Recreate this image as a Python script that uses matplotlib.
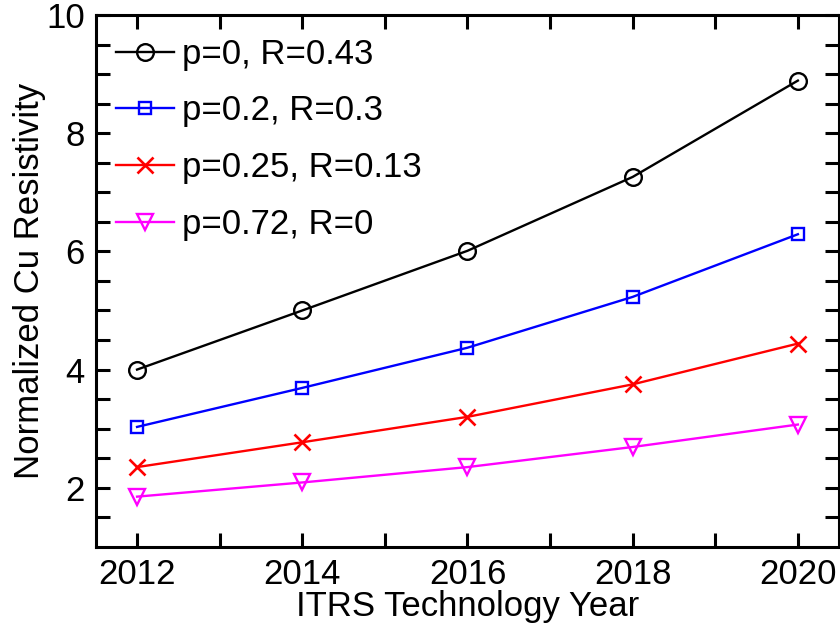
import matplotlib.pyplot as plt
import numpy as np

years = [2012, 2014, 2016, 2018, 2020]
rho_p0 = [4.00, 5.00, 6.01, 7.26, 8.89]
rho_p02 = [3.03, 3.69, 4.37, 5.23, 6.29]
rho_p025 = [2.35, 2.77, 3.20, 3.75, 4.44]
rho_p072 = [1.85, 2.09, 2.35, 2.69, 3.07]
labels = ['p=0, R=0.43', 'p=0.2, R=0.3', 'p=0.25, R=0.13', 'p=0.72, R=0']


def create_resistivity_plot():
    plt.rcParams['font.family'] = ['Liberation Sans', 'DejaVu Sans']
    fig = plt.figure(figsize=(8.4, 6.25), dpi=100)
    ax = fig.add_axes([0.114, 0.125, 0.885, 0.851])

    ax.plot(years, rho_p0, '-o', color='black', lw=1.7, ms=12, mew=1.7,
            mfc='none', label=labels[0])
    ax.plot(years, rho_p02, '-s', color='#0000ff', lw=1.7, ms=9, mew=1.7,
            mfc='none', label=labels[1])
    ax.plot(years, rho_p025, '-x', color='#ff0000', lw=1.7, ms=11, mew=1.9,
            label=labels[2])
    ax.plot(years, rho_p072, '-v', color='#ff00ff', lw=1.7, ms=12, mew=1.7,
            mfc='none', label=labels[3])

    ax.set_xlim(2011.5, 2020.5)
    ax.set_ylim(1, 10)
    ax.set_xticks(years)
    ax.set_xticks(np.arange(2012, 2021, 1), minor=True)
    ax.set_yticks([2, 4, 6, 8, 10])
    ax.set_yticks(np.arange(1.5, 10, 0.5), minor=True)
    ax.tick_params(which='both', direction='in', top=True, right=True,
                   length=10, width=2.2, labelsize=25, pad=8)
    for s in ax.spines.values():
        s.set_linewidth(2.2)

    ax.set_xlabel('ITRS Technology Year', fontsize=25, labelpad=-1)
    ax.set_ylabel('Normalized Cu Resistivity', fontsize=25, labelpad=0)

    ax.legend(loc='upper left', frameon=False, fontsize=25,
              handlelength=1.67, handletextpad=0.23, labelspacing=0.68,
              borderaxespad=0.0, borderpad=0.0,
              bbox_to_anchor=(0.027, 0.957))

    plt.savefig('out.png', dpi=100)


if __name__ == "__main__":
    create_resistivity_plot()
